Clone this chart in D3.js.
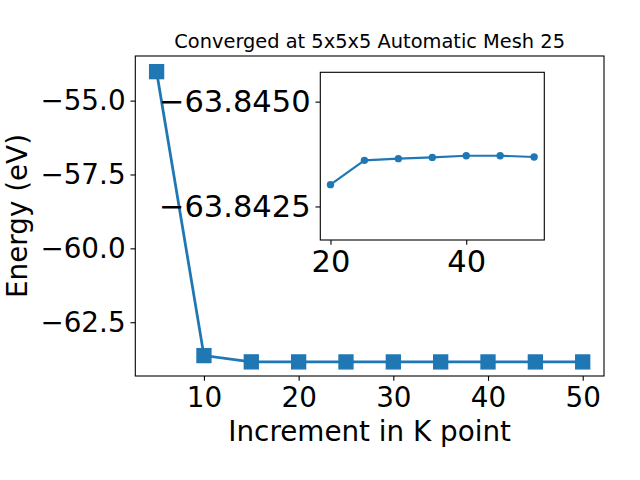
<!DOCTYPE html>
<html><head><meta charset="utf-8">
<script src="https://cdn.jsdelivr.net/npm/d3@7"></script>
<style>body{margin:0;background:#fff}svg{display:block}text{font-family:"DejaVu Sans",sans-serif;fill:#000}</style>
</head><body>
<svg id="c" width="640" height="480"></svg>
<script>
const kpoints = [5, 10, 15, 20, 25, 30, 35, 40, 45, 50];
const energies = [-54.02, -63.63, -63.8420, -63.84302, -63.84360, -63.84364, -63.84367, -63.84371, -63.84371, -63.84368];
const mainXTicks = [10, 20, 30, 40, 50];
const mainYTicks = [-55.0, -57.5, -60.0, -62.5];
const insetXTicks = [20, 40];
const insetYTicks = [-63.8450, -63.8425];
const titleText = "Converged at 5x5x5 Automatic Mesh 25";
const xLabel = "Increment in K point";
const yLabel = "Energy (eV)";

const color = "#1f77b4";
const svg = d3.select("#c");
svg.append("rect").attr("width", 640).attr("height", 480).attr("fill", "#fff");

// main axes
const L = 135.3, R = 604, T = 56, B = 376;
const x = d3.scaleLinear().domain([2.75, 52.25]).range([L, R]);
const y = d3.scaleLinear().domain([-53.49, -64.32]).range([T, B]);
const data = kpoints.map((k, i) => ({k, e: energies[i]}));

const gx = svg.append("g").attr("transform", `translate(0,${B})`)
  .call(d3.axisBottom(x).tickValues(mainXTicks).tickFormat(d3.format("d")).tickSize(4.86).tickPadding(4.86));
const gy = svg.append("g").attr("transform", `translate(${L},0)`)
  .call(d3.axisLeft(y).tickValues(mainYTicks).tickFormat(d3.format(".1f")).tickSize(4.86).tickPadding(4.86));
[gx, gy].forEach(g => {
  g.select(".domain").remove();
  g.selectAll(".tick line").attr("stroke", "#000").attr("stroke-width", 1.1);
  g.selectAll(".tick text").attr("font-size", 27.8).attr("font-family", "DejaVu Sans");
});
gx.selectAll(".tick text").attr("dy", "0.76em");

svg.append("path").datum(data)
  .attr("fill", "none").attr("stroke", color).attr("stroke-width", 2.78)
  .attr("d", d3.line().x(d => x(d.k)).y(d => y(d.e)));
svg.selectAll("rect.m").data(data).join("rect").attr("class", "m")
  .attr("x", d => x(d.k) - 6.95).attr("y", d => y(d.e) - 6.95)
  .attr("width", 13.9).attr("height", 13.9)
  .attr("fill", color).attr("stroke", color).attr("stroke-width", 1.39);

svg.append("rect").attr("x", L).attr("y", T).attr("width", R - L).attr("height", B - T)
  .attr("fill", "none").attr("stroke", "#000").attr("stroke-width", 1.1);

svg.append("text").attr("x", (L + R) / 2).attr("y", 48).attr("text-anchor", "middle")
  .attr("font-size", 19.4).text(titleText);
svg.append("text").attr("x", (L + R) / 2).attr("y", 441).attr("text-anchor", "middle")
  .attr("font-size", 27.8).text(xLabel);
svg.append("text").attr("transform", `translate(27,${(T + B) / 2}) rotate(-90)`)
  .attr("text-anchor", "middle").attr("font-size", 27.8).text(yLabel);

// inset axes
const iL = 320.3, iR = 544.3, iT = 72.3, iB = 240;
const ix = d3.scaleLinear().domain([18.5, 51.5]).range([iL, iR]);
const iy = d3.scaleLinear().domain([-63.8457, -63.8417]).range([iT, iB]);
const idata = data.filter(d => d.k >= 20);

svg.append("rect").attr("x", iL).attr("y", iT).attr("width", iR - iL).attr("height", iB - iT).attr("fill", "#fff");
const igx = svg.append("g").attr("transform", `translate(0,${iB})`)
  .call(d3.axisBottom(ix).tickValues(insetXTicks).tickFormat(d3.format("d")).tickSize(4.86).tickPadding(4.86));
const igy = svg.append("g").attr("transform", `translate(${iL},0)`)
  .call(d3.axisLeft(iy).tickValues(insetYTicks).tickFormat(d3.format(".4f")).tickSize(4.86).tickPadding(4.86));
[igx, igy].forEach(g => {
  g.select(".domain").remove();
  g.selectAll(".tick line").attr("stroke", "#000").attr("stroke-width", 1.1);
  g.selectAll(".tick text").attr("font-size", 30.5).attr("font-family", "DejaVu Sans");
});
igx.selectAll(".tick text").attr("dy", "0.74em");

svg.append("path").datum(idata)
  .attr("fill", "none").attr("stroke", color).attr("stroke-width", 2.1)
  .attr("d", d3.line().x(d => ix(d.k)).y(d => iy(d.e)));
svg.selectAll("circle.im").data(idata).join("circle").attr("class", "im")
  .attr("cx", d => ix(d.k)).attr("cy", d => iy(d.e)).attr("r", 3.7).attr("fill", color);
svg.append("rect").attr("x", iL).attr("y", iT).attr("width", iR - iL).attr("height", iB - iT)
  .attr("fill", "none").attr("stroke", "#000").attr("stroke-width", 1.1);
</script>
</body></html>
